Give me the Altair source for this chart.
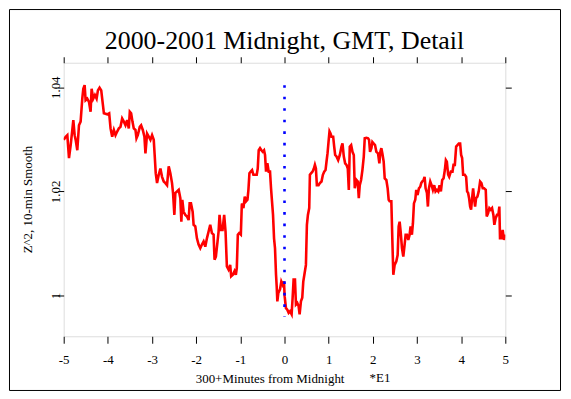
import altair as alt
import pandas as pd

# ---- data ----
minutes = [
    -5.0, -4.955, -4.918, -4.880, -4.842, -4.805, -4.782, -4.752, -4.729, -4.692,
    -4.654, -4.617, -4.579, -4.556, -4.526, -4.504, -4.466, -4.428, -4.391, -4.368,
    -4.331, -4.293, -4.255, -4.225, -4.188, -4.150, -4.112, -4.090, -4.015, -3.970,
    -3.939, -3.902, -3.864, -3.827, -3.789, -3.751, -3.714, -3.676, -3.638, -3.601,
    -3.563, -3.526, -3.503, -3.473, -3.443, -3.413, -3.375, -3.352, -3.322, -3.277,
    -3.247, -3.209, -3.172, -3.149, -3.112, -3.074, -3.036, -2.999,
    -2.961, -2.938, -2.916, -2.886, -2.848, -2.810, -2.773, -2.735, -2.697, -2.660,
    -2.622, -2.585, -2.547, -2.524, -2.494, -2.472, -2.434, -2.396, -2.359, -2.336,
    -2.314, -2.284, -2.246, -2.208, -2.171, -2.148, -2.118, -2.080, -2.058, -2.020,
    -1.983, -1.945, -1.907, -1.870, -1.832, -1.794, -1.757, -1.719, -1.682, -1.644,
    -1.606, -1.584, -1.554, -1.516, -1.493, -1.471, -1.441, -1.403, -1.366, -1.335,
    -1.305, -1.268, -1.230, -1.208, -1.170, -1.132, -1.102, -1.080, -1.057, -1.027,
    -0.989, -0.967,
    -0.960, -0.930, -0.900, -0.870, -0.839, -0.817, -0.794, -0.764, -0.734, -0.704,
    -0.666, -0.629, -0.606, -0.584, -0.554, -0.523, -0.493, -0.463, -0.441, -0.418,
    -0.388, -0.358, -0.328, -0.305, -0.283, -0.260, -0.237, -0.215, -0.192, -0.177,
    -0.162, -0.140, -0.102, -0.072, -0.042, -0.012, 0.003, 0.033, 0.063, 0.094,
    0.124, 0.161, 0.184, 0.206, 0.237, 0.259, 0.289, 0.319, 0.342, 0.372,
    0.402, 0.425, 0.455, 0.485, 0.507, 0.530, 0.560, 0.575, 0.605, 0.635,
    0.665, 0.688, 0.711, 0.733, 0.771, 0.801, 0.838, 0.869, 0.899, 0.929,
    0.951, 0.974, 0.997, 1.019, 1.042, 1.064,
    1.102, 1.125, 1.147, 1.177, 1.215, 1.253, 1.290, 1.313, 1.343, 1.373,
    1.403, 1.433, 1.456, 1.478, 1.509, 1.539, 1.569, 1.591, 1.629, 1.659,
    1.682, 1.704, 1.734, 1.764, 1.795, 1.817, 1.855, 1.892, 1.915, 1.937,
    1.968, 1.990, 2.020, 2.050, 2.080, 2.118, 2.148, 2.171, 2.193, 2.216,
    2.246, 2.269, 2.306, 2.336, 2.359, 2.381, 2.419, 2.442, 2.464, 2.494,
    2.532, 2.562, 2.585, 2.607, 2.630, 2.660, 2.690, 2.720, 2.743, 2.773,
    2.803, 2.833, 2.855, 2.885, 2.908, 2.931, 2.961, 2.983, 3.013, 3.044,
    3.074, 3.096,
    3.119, 3.149, 3.172, 3.195, 3.225, 3.247, 3.270, 3.300, 3.330, 3.360,
    3.390, 3.420, 3.450, 3.481, 3.511, 3.541, 3.571, 3.601, 3.631, 3.654,
    3.676, 3.706, 3.729, 3.766, 3.804, 3.827, 3.857, 3.887, 3.917, 3.947,
    3.977, 4.000, 4.022, 4.045, 4.082, 4.113, 4.135, 4.158, 4.180, 4.203,
    4.225, 4.248, 4.271, 4.293, 4.316, 4.338, 4.368, 4.398, 4.429, 4.459,
    4.489, 4.519, 4.557, 4.579, 4.609, 4.639, 4.670, 4.700, 4.730, 4.752,
    4.782, 4.812, 4.842, 4.865, 4.880, 4.910, 4.940, 4.970, 5.000,
]

z2_smooth = [
    1.0299, 1.0305, 1.0308, 1.0264, 1.0289, 1.0318, 1.0337, 1.0308, 1.0299, 1.0279,
    1.0327, 1.0334, 1.0378, 1.0397, 1.0404, 1.0375, 1.0378, 1.0372, 1.0353, 1.0397,
    1.0378, 1.0385, 1.0378, 1.0394, 1.0399, 1.0394, 1.0366, 1.0350, 1.0348, 1.0350,
    1.0321, 1.0305, 1.0318, 1.0308, 1.0315, 1.0321, 1.0324, 1.0340, 1.0334, 1.0327,
    1.0337, 1.0321, 1.0353, 1.0350, 1.0334, 1.0321, 1.0318, 1.0302, 1.0308, 1.0324,
    1.0327, 1.0318, 1.0305, 1.0273, 1.0311, 1.0305, 1.0299, 1.0308,
    1.0299, 1.0267, 1.0235, 1.0216, 1.0232, 1.0244, 1.0228, 1.0219, 1.0216, 1.0212,
    1.0248, 1.0235, 1.0216, 1.0197, 1.0155, 1.0197, 1.0200, 1.0203, 1.0187, 1.0142,
    1.0184, 1.0161, 1.0155, 1.0152, 1.0145, 1.0177, 1.0177, 1.0161, 1.0136, 1.0133,
    1.0110, 1.0098, 1.0091, 1.0098, 1.0104, 1.0094, 1.0110, 1.0123, 1.0136, 1.0120,
    1.0117, 1.0069, 1.0075, 1.0104, 1.0123, 1.0155, 1.0126, 1.0126, 1.0155, 1.0123,
    1.0056, 1.0050, 1.0059, 1.0037, 1.0040, 1.0047, 1.0040, 1.0053, 1.0117, 1.0120,
    1.0117, 1.0174,
    1.0177, 1.0168, 1.0190, 1.0181, 1.0184, 1.0203, 1.0235, 1.0238, 1.0241, 1.0232,
    1.0232, 1.0232, 1.0244, 1.0279, 1.0283, 1.0279, 1.0276, 1.0279, 1.0270, 1.0238,
    1.0254, 1.0238, 1.0238, 1.0206, 1.0181, 1.0155, 1.0110, 1.0091, 1.0040, 1.0018,
    0.9989, 1.0005, 1.0012, 1.0027, 1.0021, 1.0027, 0.9999, 0.9976, 0.9973, 0.9967,
    0.9970, 0.9964, 0.9996, 1.0031, 1.0031, 0.9983, 0.9986, 0.9980, 0.9964, 0.9989,
    0.9996, 1.0027, 1.0043, 1.0059, 1.0136, 1.0155, 1.0168, 1.0232, 1.0235, 1.0238,
    1.0244, 1.0251, 1.0244, 1.0212, 1.0212, 1.0216, 1.0219, 1.0232, 1.0238, 1.0241,
    1.0257, 1.0273, 1.0295, 1.0315, 1.0311, 1.0305,
    1.0305, 1.0286, 1.0270, 1.0267, 1.0260, 1.0270, 1.0286, 1.0292, 1.0267, 1.0254,
    1.0251, 1.0244, 1.0203, 1.0286, 1.0289, 1.0276, 1.0270, 1.0206, 1.0222, 1.0219,
    1.0187, 1.0212, 1.0222, 1.0241, 1.0267, 1.0302, 1.0303, 1.0302, 1.0299, 1.0276,
    1.0283, 1.0295, 1.0292, 1.0289, 1.0276, 1.0273, 1.0254, 1.0276, 1.0283, 1.0273,
    1.0257, 1.0225, 1.0222, 1.0206, 1.0184, 1.0181, 1.0181, 1.0107, 1.0040, 1.0059,
    1.0066, 1.0078, 1.0133, 1.0142, 1.0123, 1.0091, 1.0075, 1.0098, 1.0117, 1.0117,
    1.0107, 1.0117, 1.0133, 1.0117, 1.0139, 1.0177, 1.0184, 1.0203, 1.0193, 1.0206,
    1.0209, 1.0216,
    1.0219, 1.0222, 1.0228, 1.0206, 1.0197, 1.0171, 1.0206, 1.0219, 1.0212, 1.0203,
    1.0212, 1.0200, 1.0203, 1.0200, 1.0212, 1.0200, 1.0222, 1.0225, 1.0241, 1.0260,
    1.0257, 1.0232, 1.0228, 1.0238, 1.0238, 1.0251, 1.0251, 1.0286, 1.0289, 1.0292,
    1.0292, 1.0270, 1.0264, 1.0232, 1.0232, 1.0228, 1.0200, 1.0197, 1.0187, 1.0171,
    1.0165, 1.0187, 1.0206, 1.0187, 1.0171, 1.0187, 1.0190, 1.0200, 1.0219, 1.0216,
    1.0206, 1.0206, 1.0203, 1.0152, 1.0158, 1.0168, 1.0165, 1.0168, 1.0155, 1.0136,
    1.0149, 1.0155, 1.0155, 1.0171, 1.0110, 1.0110, 1.0126, 1.0107, 1.0117,
]

x_ticks = [-5, -4, -3, -2, -1, 0, 1, 2, 3, 4, 5]
y_ticks = [1.0, 1.02, 1.04]
x_domain = [-5, 5]
y_domain = [0.9922, 1.0447]

midnight_x = [0.0]
midnight_top = [1.0404]
midnight_bottom = [0.9960]

title_text = "2000-2001 Midnight, GMT, Detail"
x_title = "300+Minutes from Midnight"
y_title = "Z^2, 10-min Smooth"
note_text = "*E1"

FONT = "Liberation Serif"

df = pd.DataFrame({"x": minutes, "z": z2_smooth})
mid = pd.DataFrame({"x": midnight_x, "top": midnight_top, "bottom": midnight_bottom})
one = pd.DataFrame({"t": [note_text], "title": [title_text]})

xs = alt.Scale(domain=x_domain, nice=False, zero=False)
ys = alt.Scale(domain=y_domain, nice=False, zero=False)

line = alt.Chart(df).mark_line(color="#ff0000", strokeWidth=2.6, clip=True).encode(
    x=alt.X("x:Q", scale=xs, axis=alt.Axis(
        orient="bottom", values=x_ticks, tickSize=7, tickColor="black", tickWidth=1,
        domain=False, grid=False, labelFont=FONT, labelFontSize=13, labelColor="black",
        labelPadding=10, labelFlush=False, labelExpr="'' + datum.value",
        title=x_title, titleFont=FONT, titleFontSize=13, titleFontWeight="normal",
        titleColor="black", titleX=207, titleY=42, titleAlign="center",
        titleBaseline="middle")),
    y=alt.Y("z:Q", scale=ys, axis=alt.Axis(
        orient="left", values=y_ticks, format=".2~f", tickSize=6, tickColor="black",
        domain=False, grid=False, labelFont=FONT, labelFontSize=13, labelColor="black",
        labelAngle=-90, labelAlign="center", labelBaseline="alphabetic",
        labelPadding=-2, labelFlush=False,
        title=y_title, titleFont=FONT, titleFontSize=13, titleFontWeight="normal",
        titleColor="black", titleX=-36, titleY=137, titleAngle=-90,
        titleAlign="center", titleBaseline="middle")),
)

mirror = alt.Chart(df).mark_point(opacity=0).encode(
    x=alt.X("x:Q", scale=xs, axis=alt.Axis(
        orient="top", values=x_ticks, tickSize=6, tickColor="black", domain=False,
        grid=False, labels=False, title=None)),
    y=alt.Y("z:Q", scale=ys, axis=alt.Axis(
        orient="right", values=y_ticks, tickSize=6, tickColor="black", domain=False,
        grid=False, labels=False, title=None)),
)

rule = alt.Chart(mid).mark_rule(color="#0000ff", strokeWidth=2.6,
                                strokeDash=[2.6, 9]).encode(
    x=alt.X("x:Q", scale=xs, axis=None),
    y=alt.Y("top:Q", scale=ys, axis=None),
    y2="bottom:Q",
)

note = alt.Chart(one).mark_text(font=FONT, fontSize=13, color="black",
                                baseline="middle", align="center").encode(
    x=alt.value(318), y=alt.value(317), text="t:N")

title = alt.Chart(one).mark_text(font=FONT, fontSize=26, color="black",
                                 baseline="middle", align="center").encode(
    x=alt.value(222), y=alt.value(-22), text="title:N")

frame = alt.Chart(one).mark_rect(fill=None, stroke="black", strokeWidth=1).encode(
    x=alt.value(-54.5), x2=alt.value(499.5), y=alt.value(-53.5), y2=alt.value(329.5))

chart = alt.layer(frame, line, rule, mirror, note, title).resolve_axis(
    x="independent", y="independent"
).properties(
    width=444, height=275,
    autosize=alt.AutoSizeParams(type="none"),
    padding={"left": 56, "top": 54, "right": 58, "bottom": 57},
).configure_view(stroke="black", strokeWidth=1).configure(background="white")

chart.save("out.html", embed_options={"renderer": "svg", "actions": False})
